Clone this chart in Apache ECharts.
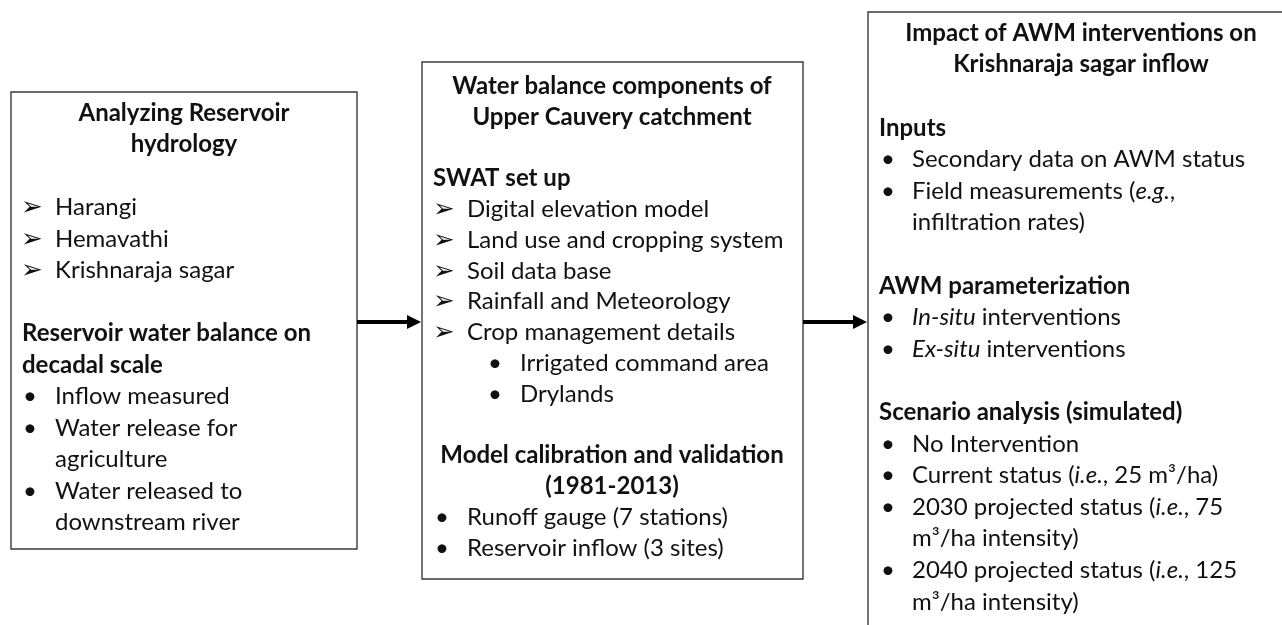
<!DOCTYPE html>
<html>
<head>
<meta charset="utf-8">
<title>Upper Cauvery workflow</title>
<script src="https://cdn.jsdelivr.net/npm/echarts@6/dist/echarts.min.js"></script>
<style>
  html, body { margin: 0; padding: 0; background: #fff; }
  #main { width: 1282px; height: 625px; }
</style>
</head>
<body>
<div id="main"></div>
<script>
// line kinds: title (centred, bold), head (bold), arrow, bullet, sub (indented bullet), cont (wrapped text), '' blank
const reservoirLines = [
  ['title', 'Analyzing Reservoir'],
  ['title', 'hydrology'],
  ['', ''],
  ['arrow', 'Harangi'],
  ['arrow', 'Hemavathi'],
  ['arrow', 'Krishnaraja sagar'],
  ['', ''],
  ['head', 'Reservoir water balance on'],
  ['head', 'decadal scale'],
  ['bullet', 'Inflow measured'],
  ['bullet', 'Water release for'],
  ['cont', 'agriculture'],
  ['bullet', 'Water released to'],
  ['cont', 'downstream river']
]

const catchmentLines = [
  ['title', 'Water balance components of'],
  ['title', 'Upper Cauvery catchment'],
  ['', ''],
  ['head', 'SWAT set up'],
  ['arrow', 'Digital elevation model'],
  ['arrow', 'Land use and cropping system'],
  ['arrow', 'Soil data base'],
  ['arrow', 'Rainfall and Meteorology'],
  ['arrow', 'Crop management details'],
  ['sub', 'Irrigated command area'],
  ['sub', 'Drylands'],
  ['', ''],
  ['title', 'Model calibration and validation'],
  ['title', '(1981-2013)'],
  ['bullet', 'Runoff gauge (7 stations)'],
  ['bullet', 'Reservoir inflow (3 sites)']
]

const impactLines = [
  ['title', 'Impact of AWM interventions on'],
  ['title', 'Krishnaraja sagar inflow'],
  ['', ''],
  ['head', 'Inputs'],
  ['bullet', 'Secondary data on AWM status'],
  ['bullet', 'Field measurements ({i|e.g.},'],
  ['cont', 'infiltration rates)'],
  ['', ''],
  ['head', 'AWM parameterization'],
  ['bullet', '{i|In-situ} interventions'],
  ['bullet', '{i|Ex-situ} interventions'],
  ['', ''],
  ['head', 'Scenario analysis (simulated)'],
  ['bullet', 'No Intervention'],
  ['bullet', 'Current status ({i|i.e.}, 25 m³/ha)'],
  ['bullet', '2030 projected status ({i|i.e.}, 75'],
  ['cont', 'm³/ha intensity)'],
  ['bullet', '2040 projected status ({i|i.e.}, 125'],
  ['cont', 'm³/ha intensity)']
]

const FONT = 'Lato, "Open Sans", sans-serif'
const SIZE = 24
const INK = '#111'

const boxes = [
  { lines: reservoirLines, rect: [11, 92, 346, 457], y0: 113, step: 31.5, cx: 184, headX: 22, markX: 22, textX: 55 },
  { lines: catchmentLines, rect: [422, 62, 381, 517], y0: 86, step: 30.8, cx: 612, headX: 433, markX: 434, textX: 467, subMarkX: 488, subTextX: 520 },
  { lines: impactLines, rect: [868, 12, 430, 622], y0: 33, step: 31.6, cx: 1081, headX: 879, markX: 880, textX: 912 }
]

const textEl = (x, y, text, opts = {}) => ({
  type: 'text',
  x,
  y,
  silent: true,
  style: {
    text,
    fill: INK,
    fontFamily: opts.family || FONT,
    fontSize: opts.size || SIZE,
    fontWeight: opts.weight || 'normal',
    align: opts.align || 'left',
    verticalAlign: 'middle',
    rich: {
      i: { fontFamily: FONT, fontSize: SIZE, fontStyle: 'italic', fill: INK, verticalAlign: 'middle' }
    }
  }
})

const buildBox = (box) => {
  const [x, y, w, h] = box.rect
  const els = [{
    type: 'rect',
    shape: { x, y, width: w, height: h },
    style: { fill: '#fff', stroke: '#3a3a3a', lineWidth: 1.4 }
  }]
  box.lines.forEach(([kind, text], i) => {
    const ly = box.y0 + i * box.step
    if (kind === 'title') {
      els.push(textEl(box.cx, ly, text, { weight: 'bold', align: 'center' }))
    } else if (kind === 'head') {
      els.push(textEl(box.headX, ly, text, { weight: 'bold' }))
    } else if (kind === 'arrow') {
      els.push(textEl(box.markX - 1, ly + 1, '➢', { family: '"DejaVu Sans"', size: 26 }))
      els.push(textEl(box.textX, ly, text))
    } else if (kind === 'bullet') {
      els.push(textEl(box.markX + 1, ly, '•'))
      els.push(textEl(box.textX, ly, text))
    } else if (kind === 'sub') {
      els.push(textEl(box.subMarkX, ly, '•'))
      els.push(textEl(box.subTextX, ly, text))
    } else if (kind === 'cont') {
      els.push(textEl(box.textX, ly, text))
    }
  })
  return els
}

// connectors between the boxes
const arrows = [
  { from: 357, to: 421, y: 322 },
  { from: 803, to: 867, y: 322 }
]

const arrowEls = arrows.flatMap(a => [
  {
    type: 'line',
    shape: { x1: a.from, y1: a.y, x2: a.to - 12, y2: a.y },
    style: { stroke: '#000', lineWidth: 4 }
  },
  {
    type: 'polygon',
    shape: { points: [[a.to - 14, a.y - 7], [a.to, a.y], [a.to - 14, a.y + 7]] },
    style: { fill: '#000' }
  }
])

const chart = echarts.init(document.getElementById('main'))
chart.setOption({
  backgroundColor: '#fff',
  animation: false,
  graphic: { elements: [...boxes.flatMap(buildBox), ...arrowEls] }
})

window.addEventListener('resize', () => chart.resize())
</script>
</body>
</html>
